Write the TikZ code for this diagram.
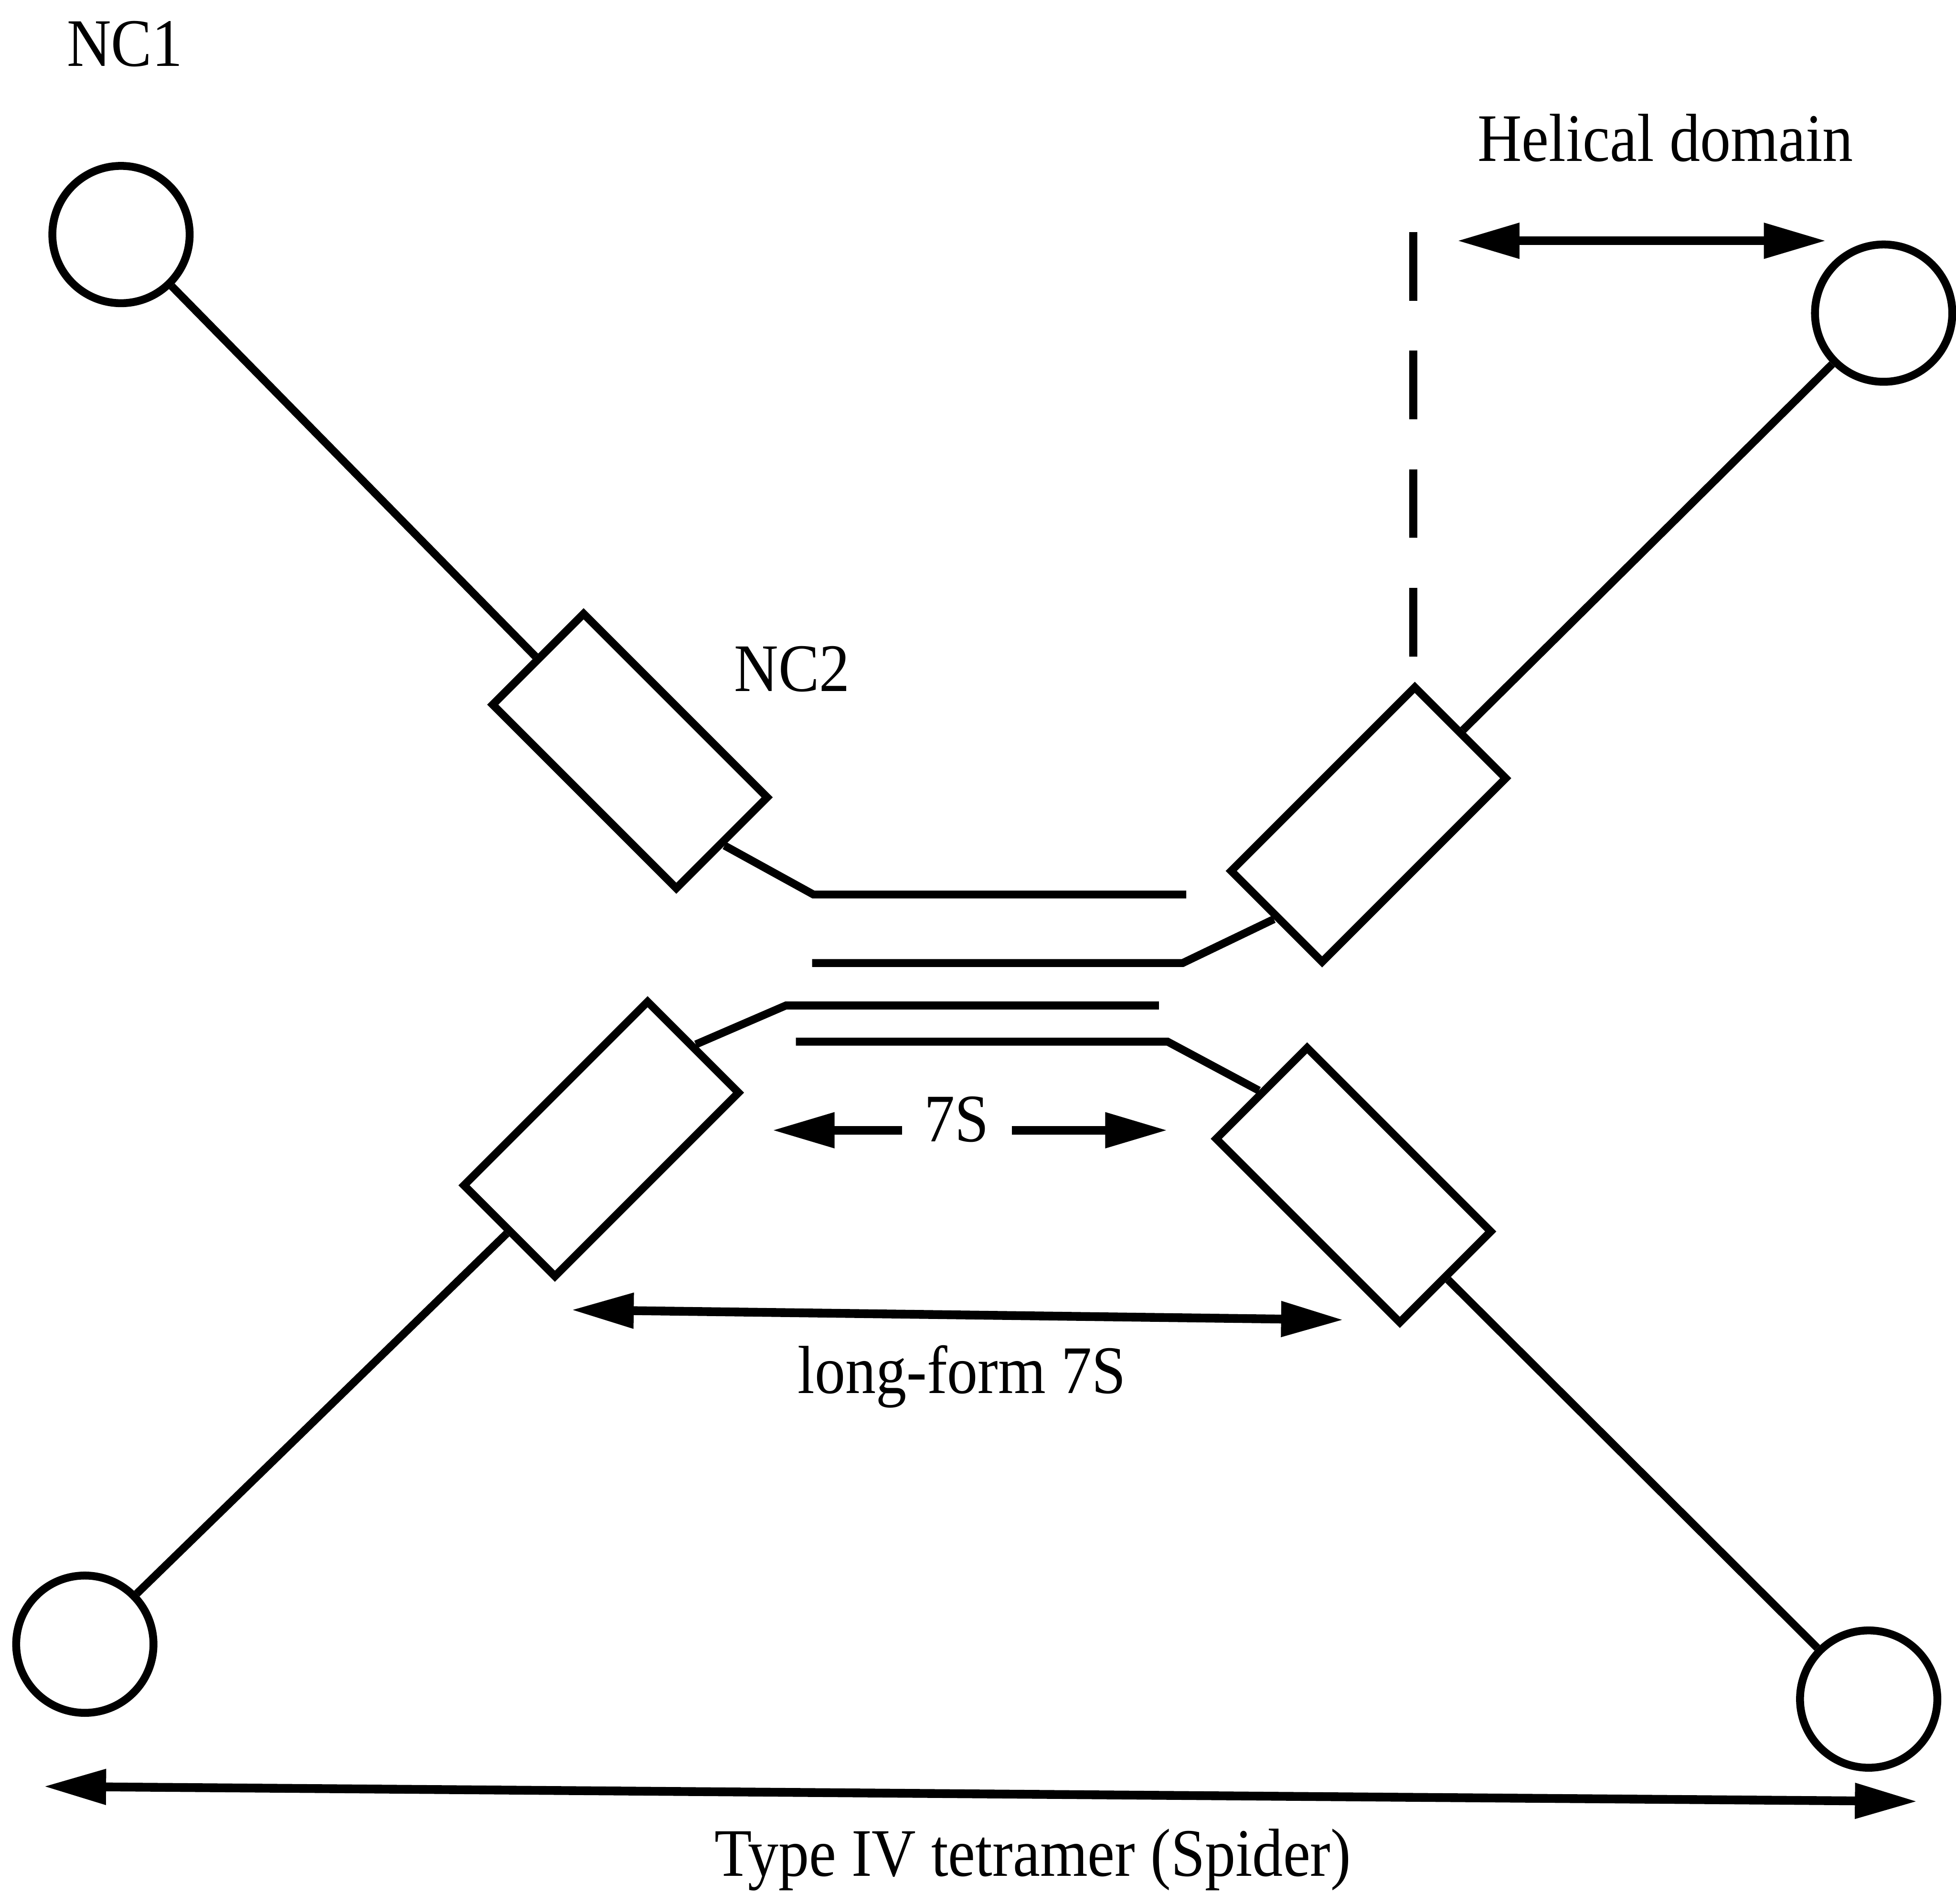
\documentclass[tikz,border=0pt]{standalone}
\usepackage{fontspec}
\setmainfont{Liberation Serif}[FakeStretch=0.9]
\usetikzlibrary{arrows.meta}
\begin{document}
\begin{tikzpicture}[x=0.01cm,y=-0.01cm,
  line width=1.8pt,
  globule/.style={draw, circle, minimum size=1.10cm, inner sep=0pt},
  segment/.style={draw, rectangle, minimum width=2.08cm, minimum height=1.03cm, inner sep=0pt},
  dimarrow/.style={line width=2pt, {Triangle[length=0.5cm,width=0.27cm]}-{Triangle[length=0.5cm,width=0.27cm]}},
  onearrow/.style={line width=2pt, -{Triangle[length=0.5cm,width=0.27cm]}},
  lbl/.style={font=\fontsize{15.5pt}{18pt}\selectfont, inner sep=0pt, anchor=base}]
\useasboundingbox (0,0) rectangle (1568,1526);

% globular NC1 domains
\node[globule] (nTL) at (97,188) {};
\node[globule] (nTR) at (1510,251) {};
\node[globule] (nBL) at (68,1318) {};
\node[globule] (nBR) at (1498,1362) {};

% NC2 segments
\node[segment, rotate=-45] (bTL) at (505,602) {};
\node[segment, rotate=45]  (bTR) at (1097,661) {};
\node[segment, rotate=45]  (bBL) at (482,913) {};
\node[segment, rotate=-45] (bBR) at (1085,950) {};

% helical arms
\draw (nTL) -- (bTL.west);
\draw (nTR) -- (bTR.east);
\draw (nBL) -- (bBL.west);
\draw (nBR) -- (bBR.east);

% overlapping 7S strands
\coordinate (s1a) at (652,717);
\coordinate (s1b) at (951,717);
\coordinate (s2a) at (948,772);
\coordinate (s2b) at (651,772);
\coordinate (s3a) at (630,806);
\coordinate (s3b) at (929,806);
\coordinate (s4a) at (936,835);
\coordinate (s4b) at (638,835);
\draw (bTL.east) -- (s1a) -- (s1b);
\draw (bTR.west) -- (s2a) -- (s2b);
\draw (bBL.east) -- (s3a) -- (s3b);
\draw (bBR.west) -- (s4a) -- (s4b);

% helical domain marker
\coordinate (dTop) at (1133,186);
\coordinate (dBot) at (1133,527);
\draw[dash pattern=on 0.55cm off 0.40cm] (dTop) -- (dBot);
\coordinate (hdL) at (1168,193);
\coordinate (hdR) at (1464,193);
\draw[dimarrow] (hdL) -- (hdR);

% 7S extent
\coordinate (s7a) at (723,906);
\coordinate (s7L) at (619,906);
\coordinate (s7b) at (811,906);
\coordinate (s7R) at (936,906);
\draw[onearrow] (s7a) -- (s7L);
\draw[onearrow] (s7b) -- (s7R);

% long-form 7S extent
\coordinate (lfL) at (458,1050);
\coordinate (lfR) at (1077,1058);
\draw[dimarrow] (lfL) -- (lfR);

% whole tetramer extent
\coordinate (tL) at (35,1432);
\coordinate (tR) at (1537,1444);
\draw[dimarrow] (tL) -- (tR);

% labels
\node[lbl] (tNC1) at (100,53) {NC1};
\node[lbl] (tNC2) at (635,554) {NC2};
\node[lbl] (tHel) at (1335,129) {Helical domain};
\node[lbl] (t7S) at (767,915) {7S};
\node[lbl] (tLF) at (771,1117) {long-form 7S};
\node[lbl] (tT4) at (828,1504) {Type IV tetramer (Spider)};
\end{tikzpicture}
\end{document}
